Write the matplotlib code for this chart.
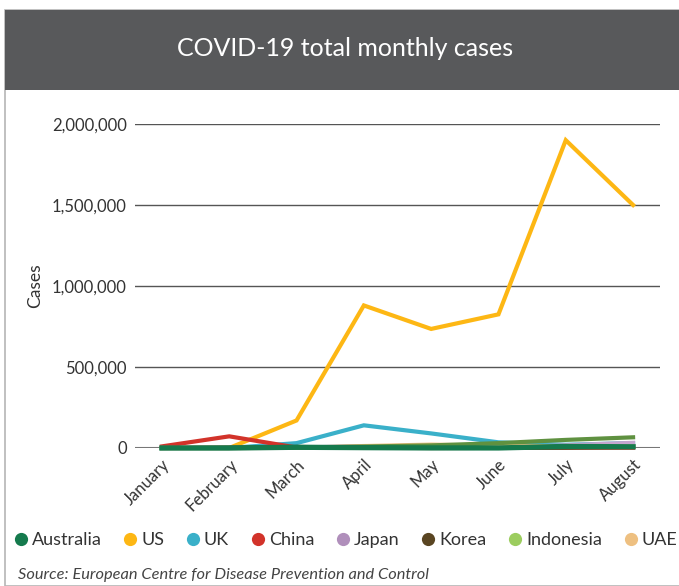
import matplotlib.pyplot as plt
from matplotlib.lines import Line2D
from matplotlib.patches import Rectangle
from matplotlib.ticker import FuncFormatter

plt.rcParams['font.family'] = ['Lato', 'DejaVu Sans']

months = ['January', 'February', 'March', 'April', 'May', 'June', 'July', 'August']
countries = ['Australia', 'US', 'UK', 'China', 'Japan', 'Korea', 'Indonesia', 'UAE']

australia = [9, 16, 4500, 2300, 460, 370, 9700, 7500]
us = [7, 60, 170000, 880000, 735000, 825000, 1900000, 1500000]
uk = [2, 20, 30000, 140000, 90000, 35000, 20000, 30000]
china = [10000, 72000, 3000, 1800, 100, 700, 2500, 1500]
japan = [15, 220, 1800, 12000, 2400, 1800, 17000, 32000]
korea = [11, 3100, 6600, 980, 730, 1350, 1500, 5800]
indonesia = [0, 0, 1500, 9000, 16000, 30000, 50000, 66000]
uae = [5, 20, 600, 12000, 21000, 14000, 11000, 10000]

legend_colors = ['#157a4d', '#fdb714', '#3ab0c9', '#d2332a', '#b08fbb',
                 '#5a4522', '#9ccd5f', '#eec081']
line_colors = ['#157a4d', '#fdb714', '#3ab0c9', '#d2332a', '#c4a6cf',
               '#5a4522', '#5f9140', '#eec081']

series = [australia, us, uk, china, japan, korea, indonesia, uae]

fig = plt.figure(figsize=(6.79, 5.86), dpi=100)

# frame and title banner
fig.patches.append(Rectangle((5 / 679, 0), 1, 1 - 10 / 586, transform=fig.transFigure,
                             facecolor='white', edgecolor='#b5b5b5', linewidth=1.2,
                             zorder=-2))
fig.patches.append(Rectangle((5 / 679, 1 - 90 / 586), 1, 80 / 586, transform=fig.transFigure,
                             facecolor='#58595b', edgecolor='none', zorder=-1))
fig.text(345 / 679, 1 - 48 / 586, 'COVID-19 total monthly cases', color='white',
         fontsize=18, ha='center', va='center')

ax = fig.add_axes([135 / 679, 1 - 448 / 586, 525 / 679, 324 / 586])
ax.patch.set_alpha(0)
x = list(range(len(months)))

# draw order: back to front
order = [1, 2, 3, 4, 5, 7, 6, 0]
for i in order:
    lw = 3.8 if i == 0 else 3.0
    ax.plot(x, series[i], color=line_colors[i], linewidth=lw, clip_on=False,
            solid_joinstyle='miter', zorder=3 + order.index(i))

ax.set_xlim(-0.4, 7.4)
ax.set_ylim(0, 2000000)
ax.set_yticks([0, 500000, 1000000, 1500000, 2000000])
ax.yaxis.set_major_formatter(FuncFormatter(lambda v, p: f'{int(v):,}'))
ax.grid(axis='y', color='#555555', linewidth=1)
ax.set_axisbelow(True)
for s in ax.spines.values():
    s.set_visible(False)
ax.axhline(0, color='#777777', linewidth=1.5, zorder=2)
ax.tick_params(length=0, labelsize=12, colors='#333333', pad=6)
ax.set_xticks(x)
ax.set_xticklabels(months, rotation=45, ha='right', rotation_mode='anchor')
ax.set_ylabel('Cases', fontsize=12.5, color='#333333')
ax.yaxis.set_label_coords(-0.175, 0.5)

handles = [Line2D([], [], marker='o', linestyle='none', markersize=9.5,
                  markerfacecolor=c, markeredgecolor='none') for c in legend_colors]
fig.legend(handles, countries, loc='center', bbox_to_anchor=(345 / 679, 1 - 540 / 586),
           ncol=8, frameon=False, fontsize=13, handletextpad=0.15, columnspacing=1.15,
           handlelength=0.9, labelcolor='#333333', borderpad=0, borderaxespad=0)

fig.text(18 / 679, 1 - 575 / 586, 'Source: European Centre for Disease Prevention and Control',
         fontsize=11.8, style='italic', color='#444444', va='center')

fig.savefig('out.png', dpi=100)
